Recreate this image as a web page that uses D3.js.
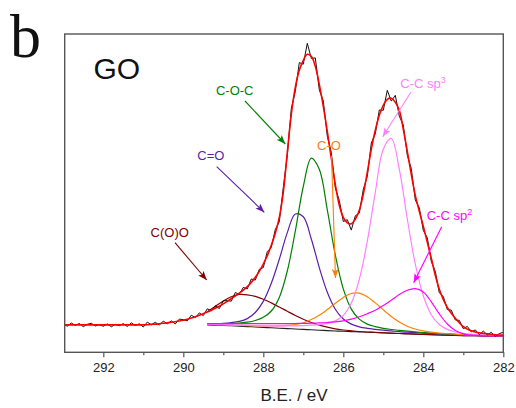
<!DOCTYPE html>
<html><head><meta charset="utf-8">
<script src="https://cdn.jsdelivr.net/npm/d3@7"></script>
<style>body{margin:0;background:#fff}svg{display:block}</style>
</head><body><svg id="c" width="516" height="408"></svg>
<script>
// ---------- data (binding energy in eV, intensity in a.u.) ----------
const rawBE = [293.0,292.9,292.8,292.7,292.6,292.5,292.4,292.3,292.2,292.1,292.0,291.9,291.8,291.7,291.6,291.5,291.4,291.3,291.2,291.1,
291.0,290.9,290.8,290.7,290.6,290.5,290.4,290.3,290.2,290.1,290.0,289.9,289.8,289.7,289.6,289.5,289.4,289.3,289.2,289.1,
289.0,288.9,288.8,288.7,288.6,288.5,288.4,288.3,288.2,288.1,288.0,287.9,287.8,287.7,287.6,287.5,287.4,287.3,287.2,287.1,
287.0,286.9,286.8,286.7,286.6,286.5,286.4,286.3,286.2,286.1,286.0,285.9,285.8,285.7,285.6,285.5,285.4,285.3,285.2,285.1,
285.0,284.9,284.8,284.7,284.6,284.5,284.4,284.3,284.2,284.1,284.0,283.9,283.8,283.7,283.6,283.5,283.4,283.3,283.2,283.1,
283.0,282.9,282.8,282.7,282.6,282.5,282.4,282.3,282.2,282.1,282.0];
const rawCounts = [28.2,26.1,29.3,26.9,28.8,25.6,28.0,29.0,26.3,27.7,26.0,28.4,25.5,27.9,26.6,28.7,25.8,29.5,26.8,28.5,
25.3,30.2,27.6,30.0,27.2,31.2,28.5,31.4,28.4,33.2,32.6,31.5,37.1,34.7,39.4,36.7,43.5,41.5,46.7,43.7,
51.5,51.7,51.1,59.8,57.9,64.9,63.4,73.3,72.2,83.0,84.7,100.7,104.9,122.9,130.5,164.9,196.6,243.6,260.8,289.7,
288.1,309,293.9,294.4,262.4,251.3,216.1,199.9,164.4,151.8,130.8,132.6,122.2,136.5,139.2,163,175.8,209.2,218.5,242.3,
242,262,251.2,257,236.1,227.2,197.1,183.6,152.2,144.6,121.8,114.5,90.9,80.9,59.5,55.8,42.8,42.2,32.3,32.0,
23.6,25.9,20.4,22.4,17.7,21.2,17.5,20.0,15.9,18.7,20.0];
const envelope = [27.4,27.4,27.4,27.4,27.4,27.4,27.4,27.4,27.4,27.4,27.4,27.4,27.4,27.4,27.4,27.4,27.4,27.4,27.4,27.4,
27.4,27.6,27.9,28.2,28.6,29.0,29.5,30.0,30.6,31.3,32.1,33.1,34.2,35.5,37.0,38.6,40.3,42.1,44.0,46.1,
48.4,50.9,53.6,56.4,59.2,62.2,65.6,69.8,75.0,81.0,88.3,96.5,107,119,135,160,200,238,265,282,
292,298,296,286,268,246,221,194,168,147,135,129.5,128.5,133,142,158,180,203,222,237,
247,253,254,250,242,223,201,178,157,141,126,110,94,77,63,53,45,39,34,29.5,
25.6,23.2,21.5,20.3,19.5,19.0,18.5,18.0,17.6,17.3,17.2];

const fitBE = [289.4,289.2,289.0,288.8,288.6,288.4,288.2,288.0,287.8,287.6,287.4,287.2,287.0,286.8,286.6,286.4,286.2,286.0,285.8,285.6,
285.4,285.2,285.0,284.8,284.6,284.4,284.2,284.0,283.8,283.6,283.4,283.2,283.0,282.8,282.6,282.4,282.2,282.0];
const background = [27.3,27.1,26.8,26.5,26.1,25.7,25.3,24.9,24.5,24.1,23.7,23.3,22.9,22.5,22.1,21.7,21.3,21.0,20.7,20.4,
20.1,19.8,19.5,19.1,18.8,18.5,18.2,17.9,17.6,17.3,17.1,16.9,16.7,16.6,16.5,16.4,16.3,16.3];
const peakCOO = [13.3,18.8,24.4,29.0,31.7,31.8,30.6,28.2,24.9,21.2,17.3,13.5,10.2,7.3,5.1,3.4,2.1,1.3,0.8,0.4,
0.2,0.1,0,0,0,0,0,0,0,0,0,0,0,0,0,0,0,0];
const peakCdO = [1.2,1.6,2.2,3.2,4.8,8.0,14.5,26.0,44.5,69.0,96.0,115.0,112.7,90.8,62.6,38.4,21.8,12.3,7.5,5.1,
3.9,3.2,2.6,2.3,1.8,1.6,1.4,1.2,1.1,1.0,0.9,0.8,0.7,0.6,0.5,0.5,0.4,0.4];
const peakCOC = [1.0,1.3,1.7,2.3,3.2,4.4,6.5,10.1,16.8,30.8,57.6,97.8,142.9,171.6,160.9,120.8,76.1,42.4,22.5,12.8,
8.1,5.9,4.5,3.7,3.1,2.6,2.2,1.9,1.6,1.4,1.2,1.0,0.8,0.7,0.6,0.5,0.5,0.4];
const peakCO = [0.4,0.5,0.6,0.7,0.8,1.0,1.2,1.4,1.8,2.3,3.2,4.5,6.7,10.3,14.9,21.0,27.7,33.9,38.1,38.8,
35.5,29.6,22.9,16.7,11.4,7.6,5.1,3.5,2.5,1.9,1.5,1.2,0.9,0.7,0.6,0.5,0.4,0.4];
const peakSp3 = [0.6,0.7,0.8,0.9,1.0,1.2,1.4,1.6,1.9,2.2,2.7,3.2,3.8,4.6,5.6,7.2,10.1,15.9,28.5,52.5,
91.0,140.2,183.6,194.7,164.4,114.8,69.9,38.7,20.0,10.5,5.8,3.4,2.2,1.5,1.1,0.8,0.6,0.5];
const peakSp2 = [1.2,1.5,1.8,2.2,2.6,3.0,3.4,3.7,4.1,4.5,5.0,5.5,6.0,6.6,7.3,8.1,9.1,10.5,12.4,15.2,
18.5,22.2,27.2,33.0,39.0,43.6,45.5,42.5,32.9,21.1,11.2,4.9,1.8,0.6,0.2,0.1,0.1,0];

const xMajorTicks = [292,290,288,286,284,282];
const xMinorTicks = [291,289,287,285,283];

// ---------- layout / style ----------
const L = 64.7, R = 503.3, T = 34, B = 352.3;
const svg = d3.select("#c");
const x = d3.scaleLinear().domain([292.965, 282]).range([L, R]);
const y = d3.scaleLinear().domain([0, 318.3]).range([B, T]);

const components = [
  {name:"C(O)O", vals:peakCOO, color:"#800000"},
  {name:"C=O", vals:peakCdO, color:"#5c1ea8"},
  {name:"C-O-C", vals:peakCOC, color:"#008000"},
  {name:"C-O", vals:peakCO, color:"#ff8000"},
  {name:"C-C sp3", vals:peakSp3, color:"#ff80ff"},
  {name:"C-C sp2", vals:peakSp2, color:"#ff00ff"}
];

// annotations in data coordinates: text (BE, intensity), arrow from -> to
const notes = [
  {text:"C-O-C", sup:"", color:"#008000", at:[288.715,257.3], anchor:"middle", from:[288.457,251.3], to:[287.45,208.3]},
  {text:"C=O", sup:"", color:"#5c1ea8", at:[289.31,192.3], anchor:"middle", from:[289.165,185.6], to:[287.975,140]},
  {text:"C-O", sup:"", color:"#ff8000", at:[286.36,202.3], anchor:"middle", from:[286.295,196.3], to:[286.195,74.3]},
  {text:"C-C sp", sup:"3", color:"#ff80ff", at:[284.575,264.8], anchor:"start", from:[284.307,260.3], to:[285.015,215.6]},
  {text:"C-C sp", sup:"2", color:"#ff00ff", at:[283.915,132.3], anchor:"start", from:[283.54,125.6], to:[284.24,69.6]},
  {text:"C(O)O", sup:"", color:"#800000", at:[290.34,115.8], anchor:"middle", from:[290.207,109.6], to:[289.415,72.3]}
];

const defs = svg.append("defs");
defs.append("clipPath").attr("id","clip").append("rect")
  .attr("x",L).attr("y",T).attr("width",R-L).attr("height",B-T);
notes.forEach((n,i)=>{
  defs.append("marker").attr("id","ah"+i).attr("markerUnits","userSpaceOnUse")
    .attr("markerWidth",10).attr("markerHeight",8).attr("refX",9).attr("refY",3.5)
    .attr("orient","auto")
    .append("path").attr("d","M0,0 L9,3.5 L0,7 L2,3.5 Z").attr("fill",n.color);
});

const plot = svg.append("g").attr("clip-path","url(#clip)");
const smooth = d3.line().x(d=>x(d[0])).y(d=>y(d[1])).curve(d3.curveCatmullRom.alpha(0.5));
const straight = d3.line().x(d=>x(d[0])).y(d=>y(d[1]));

// background
plot.append("path").attr("d", smooth(fitBE.map((e,i)=>[e, background[i]])))
  .attr("fill","none").attr("stroke","#222").attr("stroke-width",1.1);
// components
components.forEach(c=>{
  plot.append("path").attr("d", smooth(fitBE.map((e,i)=>[e, background[i]+c.vals[i]])))
    .attr("fill","none").attr("stroke",c.color).attr("stroke-width",1.2);
});
// raw data
plot.append("path").attr("d", straight(rawBE.map((e,i)=>[e, rawCounts[i]])))
  .attr("fill","none").attr("stroke","#111").attr("stroke-width",1);
// envelope
plot.append("path").attr("d", smooth(rawBE.map((e,i)=>[e, envelope[i]])))
  .attr("fill","none").attr("stroke","#ff0000").attr("stroke-width",1.6);

// frame
svg.append("rect").attr("x",L).attr("y",T).attr("width",R-L).attr("height",B-T)
  .attr("fill","none").attr("stroke","#555").attr("stroke-width",1.4);

// bottom axis
const axMaj = svg.append("g").attr("transform",`translate(0,${B})`)
  .call(d3.axisBottom(x).tickValues(xMajorTicks).tickFormat(d3.format("d")).tickSizeInner(5).tickSizeOuter(0).tickPadding(5));
const axMin = svg.append("g").attr("transform",`translate(0,${B})`)
  .call(d3.axisBottom(x).tickValues(xMinorTicks).tickFormat("").tickSizeInner(3).tickSizeOuter(0));
[axMaj,axMin].forEach(a=>{
  a.select(".domain").remove();
  a.selectAll("line").attr("stroke","#555").attr("stroke-width",1.2);
});
axMaj.selectAll("text").attr("font-family","Liberation Sans, Arial, sans-serif")
  .attr("font-size",13).attr("fill","#222");

svg.append("text").attr("x",294).attr("y",400.7).attr("text-anchor","middle")
  .attr("font-family","Liberation Sans, Arial, sans-serif").attr("font-size",17).attr("fill","#222")
  .text("B.E. / eV");

// panel letter and sample label
svg.append("text").attr("x",10).attr("y",57).attr("font-family","Liberation Serif, Times New Roman, serif")
  .attr("font-size",62).attr("fill","#111").text("b");
svg.append("text").attr("x",93.5).attr("y",79).attr("font-family","Liberation Sans, Arial, sans-serif")
  .attr("font-size",30).attr("fill","#111").text("GO");

// annotations
notes.forEach((n,i)=>{
  svg.append("line").attr("x1",x(n.from[0])).attr("y1",y(n.from[1]))
    .attr("x2",x(n.to[0])).attr("y2",y(n.to[1]))
    .attr("stroke",n.color).attr("stroke-width",1.1).attr("marker-end",`url(#ah${i})`);
  const t = svg.append("text").attr("x",x(n.at[0])).attr("y",y(n.at[1]))
    .attr("text-anchor",n.anchor).attr("font-family","Liberation Sans, Arial, sans-serif")
    .attr("font-size",13).attr("fill",n.color).text(n.text);
  if(n.sup){
    t.append("tspan").attr("font-size",9).attr("dy",-5).text(n.sup);
  }
});
</script></body></html>
